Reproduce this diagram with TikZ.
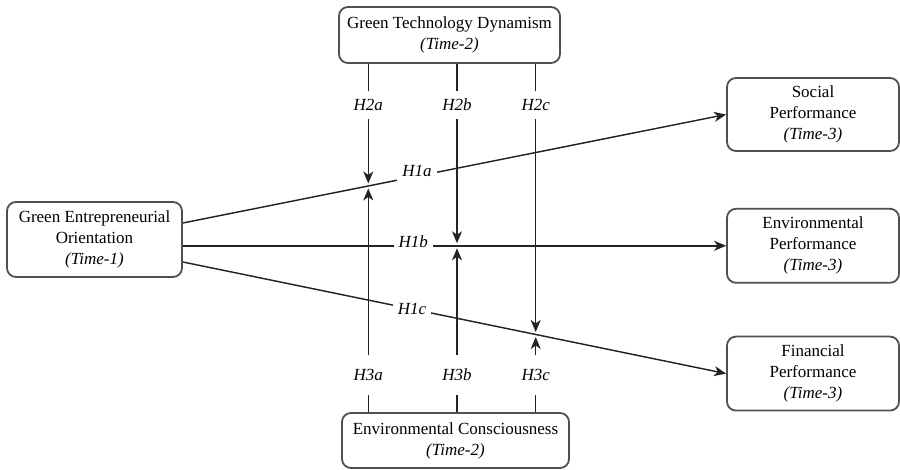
\documentclass[tikz,border=0pt]{standalone}
\usepackage{fontspec}
\setmainfont{Liberation Serif}
\usepackage{tikz}
\usetikzlibrary{arrows.meta, positioning, calc}
\definecolor{boxgray}{RGB}{80, 80, 80}
\definecolor{linegray}{RGB}{35, 35, 35}

\begin{document}
\begin{tikzpicture}[
    x=1pt, y=1pt,
    node distance=56pt,
    every node/.style={font=\fontsize{17}{21}\selectfont},
    construct/.style={rectangle, draw=boxgray, line width=1.8pt, rounded corners=9pt,
                      align=center, minimum width=172pt, minimum height=74pt},
    link/.style={draw=linegray, line width=1.45pt},
    arrow/.style={link, -{Stealth[length=12pt, width=10pt, inset=3.5pt]}},
    hyp/.style={fill=white, font=\fontsize{17}{21}\selectfont\itshape,
                inner xsep=5pt, inner ysep=8pt},
    hyplow/.style={hyp, inner ysep=14pt}
]
    \useasboundingbox (0,0) rectangle (900,470);

    % Constructs
    \node[construct, minimum width=175pt, minimum height=75pt] (geo) at (94.5,230.5)
        {Green Entrepreneurial\\Orientation\\\textit{(Time-1)}};
    \node[construct, minimum width=221pt, minimum height=56pt] (gtd) at (449.5,435)
        {Green Technology Dynamism\\\textit{(Time-2)}};
    \node[construct, minimum width=227pt, minimum height=55pt] (eco) at (455.5,29.5)
        {Environmental Consciousness\\\textit{(Time-2)}};
    \node[construct, minimum height=73pt] (soc) at (813,355.5)
        {Social\\Performance\\\textit{(Time-3)}};
    \node[construct, below=56pt of soc] (env)
        {Environmental\\Performance\\\textit{(Time-3)}};
    \node[construct, below=52pt of env] (fin)
        {Financial\\Performance\\\textit{(Time-3)}};

    % Start points and moderation points
    \coordinate (ga) at ([yshift=16.5pt]geo.east);
    \coordinate (gb) at (geo.east |- env.west);
    \coordinate (gc) at ([yshift=-22.5pt]geo.east);
    \coordinate (ja) at ($(ga)!0.3413!(soc.west)$);
    \coordinate (jb) at ($(gb)!0.5046!(env.west)$);
    \coordinate (jc) at ($(gc)!0.6495!(fin.west)$);
    \coordinate (h2row) at (0,365);
    \coordinate (h3row) at (0,95);

    % Direct effects
    \draw[arrow] (ga) -- (soc.west) node[hyp, pos=0.431, yshift=5pt] {H1a};
    \draw[arrow] (gb) -- (env.west) node[hyp, pos=0.424, yshift=4pt] {H1b};
    \draw[arrow] (gc) -- (fin.west) node[hyp, pos=0.422] {H1c};

    % Moderators
    \draw[arrow, shorten >=2.5pt] (gtd.south -| ja) -- (ja);
    \draw[arrow, shorten >=2.5pt] (gtd.south -| jb) -- (jb);
    \draw[arrow, shorten >=2.5pt] (gtd.south -| jc) -- (jc);
    \draw[arrow, shorten >=2.5pt] (eco.north -| ja) -- (ja);
    \draw[arrow, shorten >=2.5pt] (eco.north -| jb) -- (jb);
    \draw[arrow, shorten >=2.5pt] (eco.north -| jc) -- (jc);

    \node[hyp] at (ja |- h2row) {H2a};
    \node[hyp] at (jb |- h2row) {H2b};
    \node[hyp] at (jc |- h2row) {H2c};
    \node[hyplow] at (ja |- h3row) {H3a};
    \node[hyplow] at (jb |- h3row) {H3b};
    \node[hyplow] at (jc |- h3row) {H3c};

\end{tikzpicture}
\end{document}
